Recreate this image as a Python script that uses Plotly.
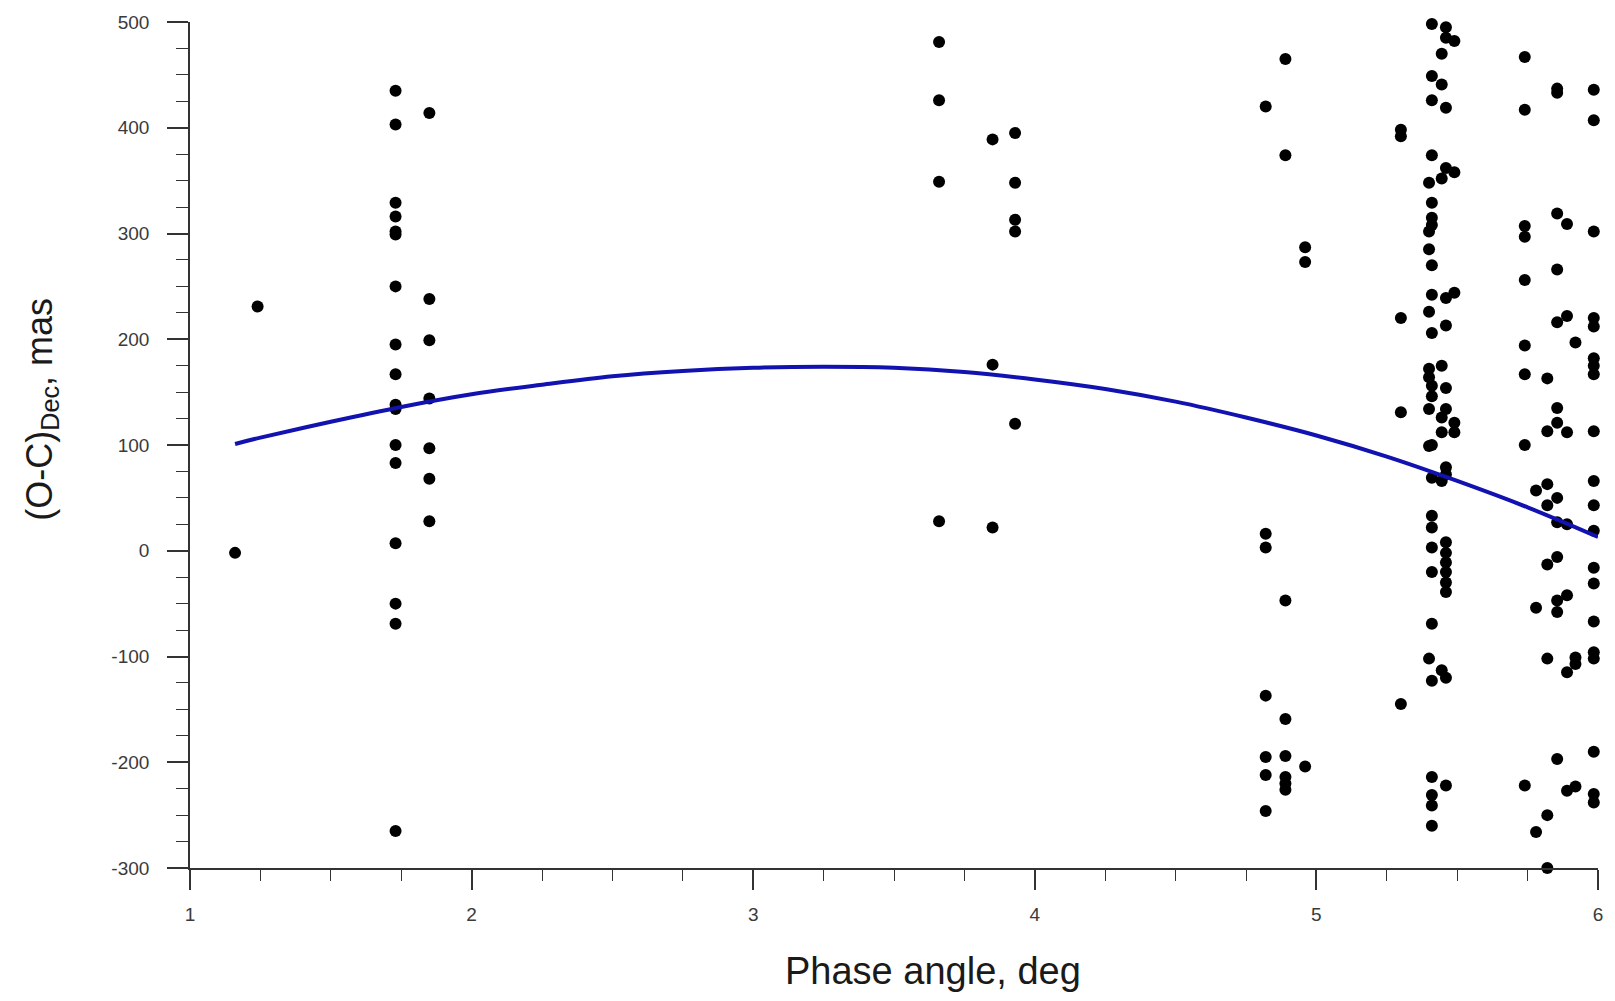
import plotly.graph_objects as go

# Phase angle (deg) of each observing night
night_phase = [1.16, 1.24, 1.73, 1.85, 3.66, 3.85, 3.93, 4.82, 4.89, 4.96,
               5.30, 5.40, 5.41, 5.445, 5.46, 5.49, 5.74, 5.78, 5.82, 5.855,
               5.89, 5.92, 5.985]

# (O-C) in declination, mas, for the positions of each night
night_oc = [
    [-2],
    [231],
    [435, 403, 329, 316, 302, 299, 250, 195, 167, 138, 134, 100, 83, 7, -50, -69, -265],
    [414, 238, 199, 144, 97, 68, 28],
    [481, 426, 349, 28],
    [389, 176, 22],
    [395, 348, 313, 302, 120],
    [420, 16, 3, -137, -195, -212, -246],
    [465, 374, -47, -159, -194, -214, -220, -226],
    [287, 273, -204],
    [398, 392, 220, 131, -145],
    [348, 302, 285, 226, 172, 164, 134, 99, -102],
    [498, 449, 426, 374, 329, 315, 308, 270, 242, 206, 156, 146, 100, 69, 33, 22, 3,
     -20, -69, -123, -214, -231, -241, -260],
    [470, 441, 352, 175, 126, 112, 66, -113],
    [495, 485, 419, 362, 239, 213, 154, 134, 79, 72, 8, -2, -11, -20, -30, -39, -120, -222],
    [482, 358, 244, 121, 112],
    [467, 417, 307, 297, 256, 194, 167, 100, -222],
    [57, -54, -266],
    [163, 113, 63, 43, -13, -102, -250, -300],
    [437, 433, 319, 266, 216, 135, 121, 50, 27, -6, -47, -58, -197],
    [309, 222, 112, 25, -42, -115, -227],
    [197, -101, -107, -223],
    [436, 407, 302, 220, 212, 182, 175, 167, 113, 66, 43, 19, -16, -31, -67, -96, -102,
     -190, -230, -238],
]

# Fitted phase-effect curve
fit_phase = [1.16, 1.25, 1.5, 1.75, 2.0, 2.25, 2.5, 2.75, 3.0, 3.25, 3.5, 3.75,
             4.0, 4.25, 4.5, 4.75, 5.0, 5.25, 5.5, 5.75, 6.0]
fit_oc = [101, 107, 122, 136, 148, 157, 165, 170, 173, 174, 173, 169,
          162, 153, 141, 126, 109, 89, 66, 41, 13]

x_tick_vals = [1, 2, 3, 4, 5, 6]
y_tick_vals = [-300, -200, -100, 0, 100, 200, 300, 400, 500]

pts_x = [p for p, vals in zip(night_phase, night_oc) for _ in vals]
pts_y = [v for vals in night_oc for v in vals]

fig = go.Figure()
fig.add_trace(go.Scatter(
    x=pts_x, y=pts_y, mode="markers",
    marker=dict(size=12, color="black", line=dict(width=0)),
    cliponaxis=False, showlegend=False,
))
fig.add_trace(go.Scatter(
    x=fit_phase, y=fit_oc, mode="lines",
    line=dict(color="#1212b0", width=4, shape="spline"),
    showlegend=False,
))

axis_col = "#333333"
tick_font = dict(family="Liberation Sans", size=19, color="#3a3a3a")

fig.update_layout(
    width=1615, height=1001,
    margin=dict(l=190, r=15, t=21, b=133, pad=0),
    paper_bgcolor="white", plot_bgcolor="white",
    xaxis=dict(
        range=[1, 6], tickvals=x_tick_vals, ticktext=[str(v) for v in x_tick_vals],
        showgrid=False, zeroline=False, showline=True, linecolor=axis_col, linewidth=1.6,
        ticks="outside", ticklen=20, tickwidth=1.6, tickcolor=axis_col,
        minor=dict(dtick=0.25, ticks="outside", ticklen=11, tickwidth=1.4, tickcolor=axis_col,
                   showgrid=False),
        tickfont=tick_font, ticklabelstandoff=8,
    ),
    yaxis=dict(
        range=[-300, 500], tickvals=y_tick_vals, ticktext=[str(v) for v in y_tick_vals],
        showgrid=False, zeroline=False, showline=True, linecolor=axis_col, linewidth=1.6,
        ticks="outside", ticklen=21, tickwidth=1.6, tickcolor=axis_col,
        minor=dict(dtick=25, ticks="outside", ticklen=12, tickwidth=1.4, tickcolor=axis_col,
                   showgrid=False),
        tickfont=tick_font, ticklabelstandoff=14,
    ),
    annotations=[
        dict(text="Phase angle, deg", xref="paper", yref="paper",
             x=(934 - 190) / 1410, y=-(971 - 868) / 847, xanchor="center", yanchor="middle",
             showarrow=False, font=dict(family="Liberation Sans", size=38, color="#1a1a1a")),
        dict(text="(O-C)<sub>Dec</sub>, mas", xref="paper", yref="paper",
             x=-(190 - 41) / 1410, y=(868 - 409) / 847, xanchor="center", yanchor="middle",
             textangle=-90, showarrow=False,
             font=dict(family="Liberation Sans", size=36, color="#1a1a1a")),
    ],
)

fig.write_html("out.html")
